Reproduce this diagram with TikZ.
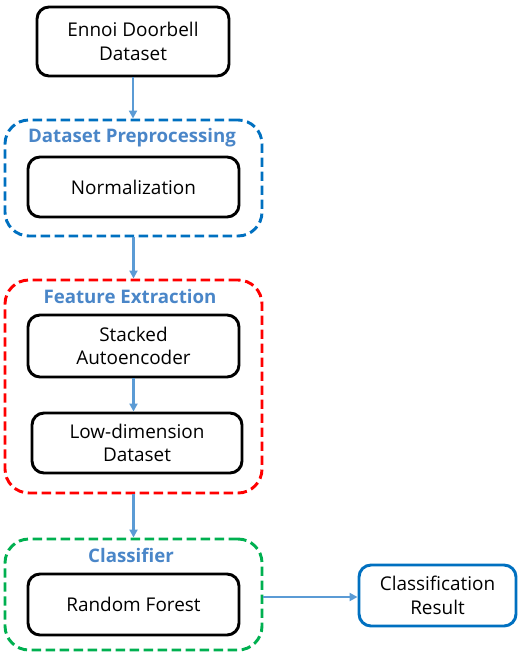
\documentclass[tikz,border=0pt]{standalone}
\usepackage{fontspec}
\setmainfont{Open Sans}
\usetikzlibrary{arrows.meta,calc}
\definecolor{grpblue}{HTML}{0070C0}
\definecolor{grpred}{HTML}{FF0000}
\definecolor{grpgreen}{HTML}{00B050}
\definecolor{titleblue}{HTML}{4A86C8}
\definecolor{arrowblue}{HTML}{5B9BD5}
\tikzset{
  px/.style={x=0.75pt,y=-0.75pt},
  stepbox/.style={draw=black,line width=2.2pt,rounded corners=9pt,fill=white,
    align=center,inner sep=0pt,font=\fontsize{14.2}{17.5}\selectfont},
  group/.style={draw=#1,line width=2.2pt,dash pattern=on 7pt off 3.5pt,
    rounded corners=18pt,inner sep=0pt},
  grouptitle/.style={text=titleblue,font=\fontsize{14}{16}\selectfont\bfseries,inner sep=0pt},
  flow/.style={draw=arrowblue,line width=1.6pt,-{Triangle[length=6pt,width=6pt]}},
}
\begin{document}
\begin{tikzpicture}[px]
\useasboundingbox (0,0) rectangle (518,652);
% group frames
\node[group=grpblue,minimum width=192.75pt,minimum height=87pt] (pre) at (133.5,178) {};
\node[group=grpred,minimum width=192.75pt,minimum height=159.75pt] (fe) at (133.5,386.5) {};
\node[group=grpgreen,minimum width=192.75pt,minimum height=83.25pt] (cls) at (133.5,594.5) {};
% group titles
\node[grouptitle] (pretitle) at (132,138) {Dataset Preprocessing};
\node[grouptitle] (fetitle) at (130,296) {Feature Extraction};
\node[grouptitle] (clstitle) at (131,555) {Classifier};
% process steps
\node[stepbox,minimum width=144pt,minimum height=51.75pt] (ds) at (133,41.5) {Ennoi Doorbell\\Dataset};
\node[stepbox,minimum width=158.25pt,minimum height=45pt] (norm) at (133.5,187) {Normalization};
\node[stepbox,minimum width=158.25pt,minimum height=46.5pt] (sae) at (133.5,346) {Stacked\\Autoencoder};
\node[stepbox,minimum width=157.5pt,minimum height=45pt] (low) at (137,443) {Low-dimension\\Dataset};
\node[stepbox,minimum width=158.25pt,minimum height=45.75pt] (rf) at (133.5,604.5) {Random Forest};
\node[stepbox,draw=grpblue,minimum width=117.75pt,minimum height=45.75pt] (res) at (437.5,595.5) {Classification\\Result};
% connectors
\coordinate (clsout) at ($(cls.east)+(0,2.5)$);
\draw[flow] (ds.south) -- (ds.south |- pre.north);
\draw[flow] (pre.south) -- (fe.north);
\draw[flow] (sae.south) -- (sae.south |- low.north);
\draw[flow] (fe.south) -- (cls.north);
\draw[flow] (clsout) -- (clsout -| res.west);
\end{tikzpicture}
\end{document}
